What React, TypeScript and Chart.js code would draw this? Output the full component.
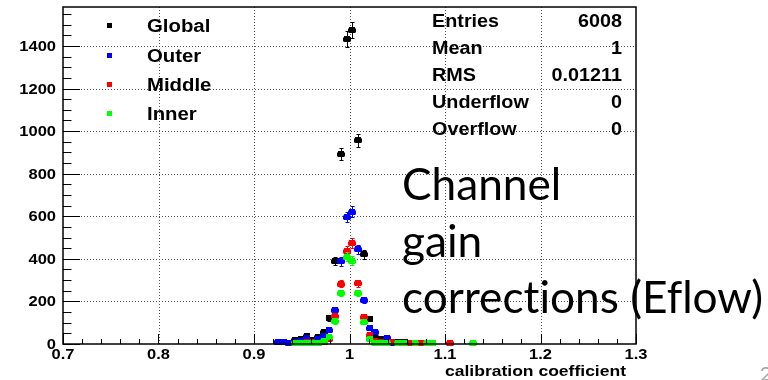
import { useEffect, useRef } from "react";
import { Chart, registerables } from "chart.js";

Chart.register(...registerables);

// Histogram bin centres (bin width 0.006 on 0.7 – 1.3)
const binCenters = [
  0.919, 0.925, 0.931, 0.937, 0.943, 0.949, 0.955, 0.961, 0.967, 0.973, 0.979, 0.985,
  0.991, 0.997, 1.003, 1.009, 1.015, 1.021, 1.027, 1.033, 1.039, 1.045, 1.051, 1.057,
  1.063, 1.069, 1.075, 1.081, 1.087, 1.093, 1.099, 1.105, 1.111, 1.117, 1.123, 1.129,
];

// Entries per bin (0 = empty bin, not drawn)
const globalCounts = [
  0, 8, 8, 6, 20, 22, 36, 18, 32, 56, 120, 390,
  892, 1432, 1476, 956, 422, 118, 35, 22, 26, 10, 10, 8,
  5, 4, 0, 0, 0, 0, 0, 0, 0, 0, 0, 0,
];
const outerCounts = [
  0, 8, 8, 6, 10, 12, 26, 6, 25, 36, 66, 161,
  388, 596, 622, 446, 208, 75, 56, 10, 28, 6, 6, 4,
  0, 0, 0, 0, 0, 0, 0, 0, 0, 0, 0, 0,
];
const middleCounts = [
  0, 0, 0, 0, 0, 5, 8, 8, 6, 10, 22, 133,
  283, 438, 474, 286, 125, 40, 14, 8, 6, 8, 4, 0,
  5, 0, 6, 0, 0, 0, 0, 6, 0, 0, 0, 0,
];
const innerCounts = [
  0, 0, 0, 0, 4, 4, 3, 4, 4, 14, 34, 106,
  239, 411, 392, 239, 104, 24, 5, 3, 4, 0, 5, 4,
  0, 4, 0, 4, 3, 0, 0, 0, 0, 0, 0, 4,
];

const seriesNames = ["Global", "Outer", "Middle", "Inner"];
const seriesCounts = [globalCounts, outerCounts, middleCounts, innerCounts];
const seriesColors = ["#000000", "#0000ff", "#ff0000", "#00ff00"];

const xTickValues = [0.7, 0.8, 0.9, 1.0, 1.1, 1.2, 1.3];
const xTickLabels = ["0.7", "0.8", "0.9", "1", "1.1", "1.2", "1.3"];
const yTickValues = [0, 200, 400, 600, 800, 1000, 1200, 1400];
const yTickLabels = ["0", "200", "400", "600", "800", "1000", "1200", "1400"];

const statNames = ["Entries", "Mean", "RMS", "Underflow", "Overflow"];
const statValues = ["6008", "1", "0.01211", "0", "0"];

const xTitle = "calibration coefficient";
const noteLines = ["Channel", "gain", "corrections (Eflow)"];

const X_MIN = 0.7;
const X_MAX = 1.3;
const Y_MIN = 0;
const Y_MAX = 1583;
const HALF_BIN = 0.003;

const ROOT_FONT = "bold 15px 'Liberation Sans', Arial, sans-serif";
const ROOT_SX = 1.1;

function drawText(
  ctx: CanvasRenderingContext2D,
  s: string,
  x: number,
  y: number,
  font: string,
  align: CanvasTextAlign,
  sx: number,
  color = "#000",
  noLigatures = false
) {
  ctx.save();
  ctx.font = font;
  ctx.fillStyle = color;
  ctx.textAlign = align;
  ctx.textBaseline = "alphabetic";
  if (noLigatures) {
    (ctx as any).textRendering = "optimizeSpeed";
    (ctx as any).letterSpacing = "0.01px";
  }
  ctx.translate(x, y);
  ctx.scale(sx, 1);
  ctx.fillText(s, 0, 0);
  ctx.restore();
}

// square marker, drawn with the scale pixels of each point
function drawSquares(chart: any, index: number) {
  const { ctx } = chart;
  const meta = chart.getDatasetMeta(index);
  const ds = chart.data.datasets[index];
  ctx.save();
  ctx.fillStyle = ds.backgroundColor;
  meta.data.forEach((el: any) => {
    ctx.fillRect(Math.round(el.x) - 3, Math.round(el.y) - 3, 6, 6);
  });
  ctx.restore();
}

const rootFramePlugin = {
  id: "rootFrame",
  beforeDatasetsDraw(chart: any) {
    const { ctx, chartArea: a, scales } = chart;
    const xs = scales.x;
    const ys = scales.y;
    ctx.save();
    ctx.strokeStyle = "#555";
    ctx.lineWidth = 1;
    ctx.setLineDash([1, 2]);
    xTickValues.forEach((v) => {
      if (v <= X_MIN || v >= X_MAX) return;
      const px = Math.round(xs.getPixelForValue(v)) + 0.5;
      ctx.beginPath();
      ctx.moveTo(px, a.top);
      ctx.lineTo(px, a.bottom);
      ctx.stroke();
    });
    yTickValues.forEach((v) => {
      if (v <= Y_MIN) return;
      const py = Math.round(ys.getPixelForValue(v)) + 0.5;
      ctx.beginPath();
      ctx.moveTo(a.left, py);
      ctx.lineTo(a.right, py);
      ctx.stroke();
    });
    ctx.restore();
  },
  beforeDatasetDraw(chart: any, args: any) {
    // error bars: sqrt(N) vertically, half bin width horizontally
    const { ctx, scales } = chart;
    const xs = scales.x;
    const ys = scales.y;
    const ds = chart.data.datasets[args.index];
    ctx.save();
    ctx.strokeStyle = ds.backgroundColor;
    ctx.lineWidth = 1;
    ds.data.forEach((p: any) => {
      const err = Math.sqrt(p.y);
      const cx = Math.round(xs.getPixelForValue(p.x)) + 0.5;
      const cy = Math.round(ys.getPixelForValue(p.y)) + 0.5;
      const yt = Math.round(ys.getPixelForValue(p.y + err)) + 0.5;
      const yb = Math.round(ys.getPixelForValue(p.y - err)) + 0.5;
      const xl = Math.round(xs.getPixelForValue(p.x - HALF_BIN)) - 0.5;
      const xr = Math.round(xs.getPixelForValue(p.x + HALF_BIN)) + 0.5;
      ctx.beginPath();
      ctx.moveTo(cx, yt);
      ctx.lineTo(cx, yb);
      ctx.moveTo(cx - 2, yt);
      ctx.lineTo(cx + 2, yt);
      ctx.moveTo(cx - 2, yb);
      ctx.lineTo(cx + 2, yb);
      ctx.moveTo(xl, cy);
      ctx.lineTo(xr, cy);
      ctx.moveTo(xl, cy - 2);
      ctx.lineTo(xl, cy + 2);
      ctx.moveTo(xr, cy - 2);
      ctx.lineTo(xr, cy + 2);
      ctx.stroke();
    });
    ctx.restore();
    drawSquares(chart, args.index);
    return false;
  },
  afterDatasetsDraw(chart: any) {
    const { ctx, chartArea: a, scales } = chart;
    const xs = scales.x;
    const ys = scales.y;
    ctx.save();
    ctx.strokeStyle = "#000";
    ctx.lineWidth = 1;
    ctx.setLineDash([]);
    // y axis ticks, inside the frame
    for (let v = 0; v <= Y_MAX; v += 50) {
      const py = Math.round(ys.getPixelForValue(v)) + 0.5;
      const len = v % 200 === 0 ? 17 : 8.5;
      ctx.beginPath();
      ctx.moveTo(a.left, py);
      ctx.lineTo(a.left + len, py);
      ctx.stroke();
    }
    // x axis ticks
    for (let i = 0; i <= 30; i++) {
      const v = X_MIN + i * 0.02;
      const px = Math.round(xs.getPixelForValue(v)) + 0.5;
      const len = i % 5 === 0 ? 10 : 5;
      ctx.beginPath();
      ctx.moveTo(px, a.bottom);
      ctx.lineTo(px, a.bottom - len);
      ctx.stroke();
    }
    // frame
    ctx.lineWidth = 1.5;
    ctx.strokeRect(a.left, a.top, a.right - a.left, a.bottom - a.top);
    ctx.restore();
  },
  afterDraw(chart: any) {
    const { ctx, chartArea: a, scales } = chart;
    const xs = scales.x;
    const ys = scales.y;

    // tick labels
    yTickValues.forEach((v, i) => {
      drawText(ctx, yTickLabels[i], a.left - 7, ys.getPixelForValue(v) + 5, ROOT_FONT, "right", ROOT_SX);
    });
    xTickValues.forEach((v, i) => {
      drawText(ctx, xTickLabels[i], xs.getPixelForValue(v), a.bottom + 15, ROOT_FONT, "center", ROOT_SX);
    });

    // axis title
    const titleFont = "bold 14px 'Liberation Sans', Arial, sans-serif";
    ctx.save();
    ctx.font = titleFont;
    const tw = ctx.measureText(xTitle).width;
    ctx.restore();
    drawText(ctx, xTitle, a.right - 10, a.bottom + 32, titleFont, "right", 181 / tw);

    // legend
    const legFont = "bold 18px 'Liberation Sans', Arial, sans-serif";
    const legRows = [25, 55, 84, 113];
    seriesNames.forEach((name, i) => {
      ctx.fillStyle = seriesColors[i];
      ctx.fillRect(107, legRows[i] - 2, 5, 5);
      drawText(ctx, name, 147, legRows[i] + 6.5, legFont, "left", 1.13);
    });

    // statistics box
    const statRows = [20, 47, 74, 101, 128];
    statNames.forEach((name, i) => {
      drawText(ctx, name, 432, statRows[i] + 6.5, legFont, "left", 1.1);
      drawText(ctx, statValues[i], 622, statRows[i] + 6.5, legFont, "right", 1.1);
    });

    // annotation
    const noteFont = "44px Lato, 'Open Sans', sans-serif";
    ctx.save();
    ctx.font = noteFont;
    (ctx as any).textRendering = "optimizeSpeed";
    (ctx as any).letterSpacing = "0.01px";
    const nw = ctx.measureText(noteLines[2]).width;
    ctx.restore();
    const nsx = 361 / nw;
    const noteBase = [200, 257, 313];
    noteLines.forEach((line, i) => {
      drawText(ctx, line, 402, noteBase[i], noteFont, "left", nsx, "#000", true);
    });

    // page number peeking in at the corner
    drawText(ctx, "2", 760, 381, "20px Lato, sans-serif", "left", 1, "#a0a0a0");
  },
};

export default function App() {
  const canvasRef = useRef<HTMLCanvasElement | null>(null);

  useEffect(() => {
    const canvas = canvasRef.current;
    if (!canvas) return;

    const datasets = seriesNames.map((name, s) => ({
      label: name,
      data: binCenters
        .map((x, i) => ({ x, y: seriesCounts[s][i] }))
        .filter((p) => p.y > 0),
      backgroundColor: seriesColors[s],
      borderColor: seriesColors[s],
      borderWidth: 0,
      pointStyle: "rect" as const,
      pointRadius: 4.2,
      pointHoverRadius: 4.2,
      showLine: false,
      order: seriesNames.length - 1 - s,
    }));

    const chart = new Chart(canvas, {
      type: "scatter",
      data: { datasets },
      options: {
        responsive: false,
        animation: false,
        devicePixelRatio: 1,
        layout: { padding: { left: 63, right: 132, top: 7, bottom: 36 } },
        scales: {
          x: { type: "linear", min: X_MIN, max: X_MAX, display: false },
          y: { type: "linear", min: Y_MIN, max: Y_MAX, display: false },
        },
        plugins: {
          legend: { display: false },
          tooltip: { enabled: false },
        },
        events: [],
      },
      plugins: [rootFramePlugin],
    });

    return () => chart.destroy();
  }, []);

  return (
    <div style={{ position: "fixed", left: 0, top: 0, width: 768, height: 380, background: "#fff" }}>
      <canvas ref={canvasRef} width={768} height={380} style={{ display: "block" }} />
    </div>
  );
}
